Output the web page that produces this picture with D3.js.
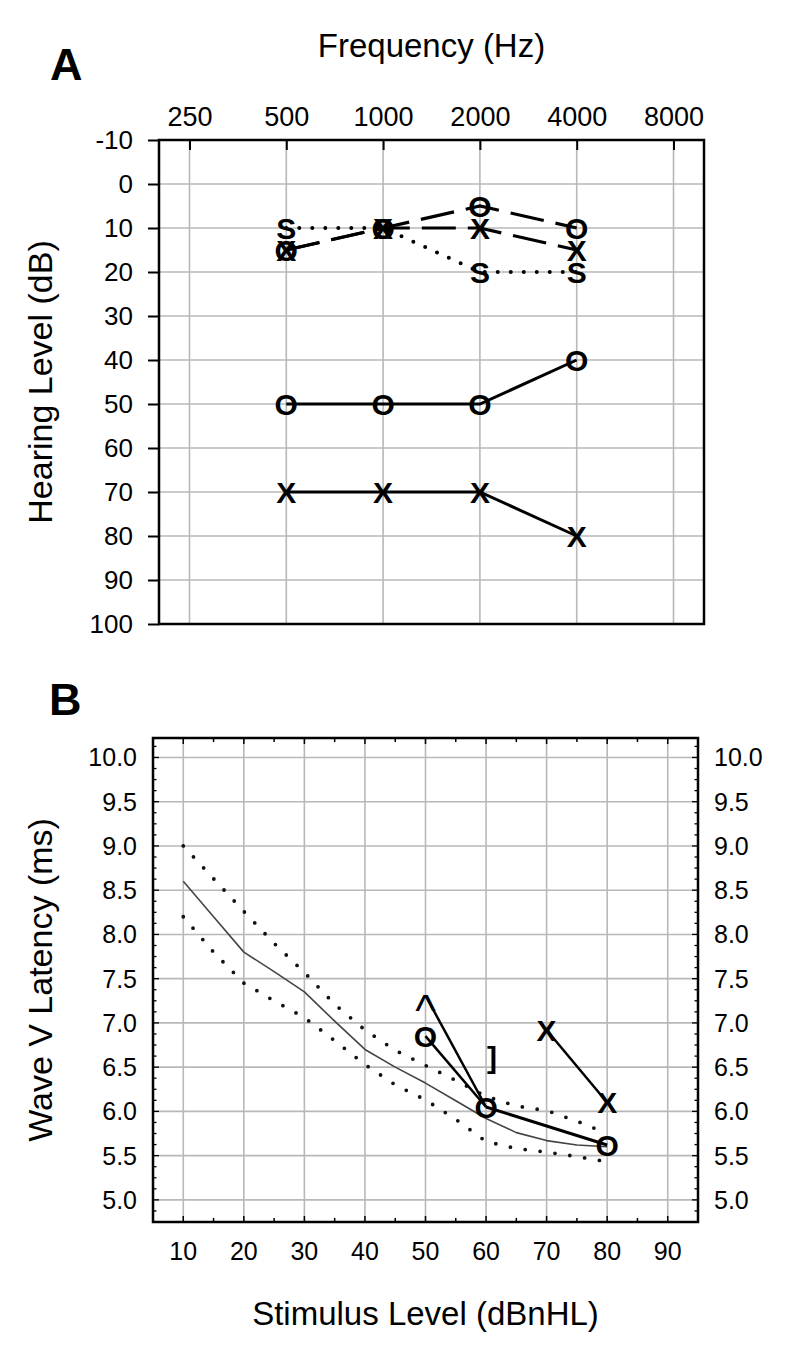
<!DOCTYPE html>
<html>
<head>
<meta charset="utf-8">
<script src="https://cdn.jsdelivr.net/npm/d3@7"></script>
<style>
html,body{margin:0;padding:0;background:#fff;}
svg{display:block;}
text{font-family:"Liberation Sans",Arial,Helvetica,sans-serif;fill:#000;}
</style>
</head>
<body>
<svg id="chart" width="789" height="1346"></svg>
<script>
// ---------- Panel A data ----------
const freqTicks = [250, 500, 1000, 2000, 4000, 8000];
const hlTicks = [-10, 0, 10, 20, 30, 40, 50, 60, 70, 80, 90, 100];
const testFreqs = [500, 1000, 2000, 4000];
const maskedBoneS = [10, 10, 20, 20];        // "S" dotted
const rightAidedO = [15, 10, 5, 10];         // "O" dashed
const leftAidedX = [15, 10, 10, 15];         // "X" dashed
const rightUnaidedO = [50, 50, 50, 40];      // "O" solid
const leftUnaidedX = [70, 70, 70, 80];       // "X" solid

// ---------- Panel B data ----------
const levelTicks = [10, 20, 30, 40, 50, 60, 70, 80, 90];
const latencyTicks = [5.0, 5.5, 6.0, 6.5, 7.0, 7.5, 8.0, 8.5, 9.0, 9.5, 10.0];
const normLevels = [10, 15, 20, 25, 30, 35, 40, 45, 50, 55, 60, 65, 70, 75, 80];
const normMean  = [8.6, 8.2, 7.8, 7.58, 7.35, 7.02, 6.7, 6.5, 6.32, 6.12, 5.92, 5.76, 5.67, 5.62, 5.6];
const normUpper = [9.0, 8.63, 8.26, 7.9, 7.57, 7.21, 6.92, 6.69, 6.52, 6.35, 6.17, 6.06, 6.01, 5.89, 5.75];
const normLower = [8.2, 7.8, 7.45, 7.25, 7.06, 6.8, 6.53, 6.3, 6.13, 5.91, 5.66, 5.58, 5.54, 5.49, 5.43];
const rightLevels = [50, 60, 80];
const rightLatency = [6.85, 6.05, 5.62];
const caretLevel = 50, caretLatency = 7.31;
const bracketLevel = 60, bracketLatency = 6.58;
const leftLevels = [70, 80];
const leftLatency = [6.92, 6.1];

const svg = d3.select("#chart");
const GRID = "#b8b8b8";
const plain = d => String(d);

// ================= PANEL A =================
const oct = Math.pow(2, 0.315);
const xA = d3.scaleLog().base(2).domain([250 / oct, 8000 * oct]).range([159, 704]);
const yA = d3.scaleLinear().domain([-10, 100]).range([140, 624]);
const gA = svg.append("g");

gA.selectAll(".vgA").data(freqTicks).join("line")
  .attr("x1", d => xA(d)).attr("x2", d => xA(d)).attr("y1", yA(-10)).attr("y2", yA(100))
  .attr("stroke", GRID).attr("stroke-width", 1.6);
gA.selectAll(".hgA").data(hlTicks.slice(1, -1)).join("line")
  .attr("x1", xA.range()[0]).attr("x2", xA.range()[1]).attr("y1", d => yA(d)).attr("y2", d => yA(d))
  .attr("stroke", GRID).attr("stroke-width", 1.6);

const axTop = gA.append("g").attr("transform", `translate(0,${yA(-10)})`)
  .call(d3.axisTop(xA).tickValues(freqTicks).tickFormat(plain).tickSizeInner(-10).tickSizeOuter(0).tickPadding(14));
axTop.select(".domain").remove();
axTop.selectAll("line").attr("stroke", "#000").attr("stroke-width", 2);
axTop.selectAll("text").attr("font-size", 27).attr("font-family", "Liberation Sans, Arial").attr("fill", "#000");

const axLeft = gA.append("g").attr("transform", `translate(${xA.range()[0]},0)`)
  .call(d3.axisLeft(yA).tickValues(hlTicks).tickFormat(plain).tickSizeInner(11).tickSizeOuter(0).tickPadding(15));
axLeft.select(".domain").remove();
axLeft.selectAll("line").attr("stroke", "#000").attr("stroke-width", 2);
axLeft.selectAll("text").attr("font-size", 26).attr("font-family", "Liberation Sans, Arial").attr("fill", "#000");

gA.append("rect").attr("x", xA.range()[0]).attr("y", yA(-10))
  .attr("width", xA.range()[1] - xA.range()[0]).attr("height", yA(100) - yA(-10))
  .attr("fill", "none").attr("stroke", "#000").attr("stroke-width", 2.5);

const lineA = d3.line().x(d => xA(d[0])).y(d => yA(d[1]));
function seriesA(vals, dash, width) {
  const pts = testFreqs.map((f, i) => [f, vals[i]]);
  gA.append("path").attr("d", lineA(pts)).attr("fill", "none")
    .attr("stroke", "#000").attr("stroke-width", width)
    .attr("stroke-dasharray", dash).attr("stroke-linecap", dash === "0 13" ? "round" : "butt");
  return pts;
}
const symA = [];
symA.push([seriesA(maskedBoneS, "0 13", 4), "S"]);
symA.push([seriesA(rightAidedO, "34 12", 3.2), "O"]);
symA.push([seriesA(leftAidedX, "34 12", 3.2), "X"]);
symA.push([seriesA(rightUnaidedO, null, 3), "O"]);
symA.push([seriesA(leftUnaidedX, null, 3), "X"]);
const symSize = 30;
symA.forEach(([pts, s]) => {
  gA.selectAll(null).data(pts).join("text")
    .attr("x", d => xA(d[0])).attr("y", d => yA(d[1]) + 0.358 * symSize)
    .attr("text-anchor", "middle").attr("font-size", symSize).attr("font-weight", "bold")
    .text(s);
});

svg.append("text").attr("x", 50).attr("y", 80).attr("font-size", 45).attr("font-weight", "bold").text("A");
svg.append("text").attr("x", (xA.range()[0] + xA.range()[1]) / 2).attr("y", 57)
  .attr("text-anchor", "middle").attr("font-size", 33).text("Frequency (Hz)");
svg.append("text").attr("transform", `translate(52,${(yA(-10) + yA(100)) / 2}) rotate(-90)`)
  .attr("text-anchor", "middle").attr("font-size", 34).text("Hearing Level (dB)");

// ================= PANEL B =================
const xB = d3.scaleLinear().domain([5, 95]).range([153, 698]);
const yB = d3.scaleLinear().domain([4.75, 10.22]).range([1222, 738]);
const gB = svg.append("g");

gB.selectAll(".vgB").data(levelTicks).join("line")
  .attr("x1", d => xB(d)).attr("x2", d => xB(d)).attr("y1", yB.range()[1]).attr("y2", yB.range()[0])
  .attr("stroke", GRID).attr("stroke-width", 1.6);
gB.selectAll(".hgB").data(latencyTicks).join("line")
  .attr("x1", xB.range()[0]).attr("x2", xB.range()[1]).attr("y1", d => yB(d)).attr("y2", d => yB(d))
  .attr("stroke", GRID).attr("stroke-width", 1.6);

const xMinor = d3.range(10, 95, 5);
const yMinor = d3.range(4.75, 10.22, 0.125);
[[yB.range()[1], 1], [yB.range()[0], -1]].forEach(([y0, s]) => {
  gB.selectAll(null).data(xMinor).join("line")
    .attr("x1", d => xB(d)).attr("x2", d => xB(d))
    .attr("y1", y0).attr("y2", d => y0 + s * (d % 10 === 0 ? 6 : 4))
    .attr("stroke", "#000").attr("stroke-width", 1.5);
});
[[xB.range()[0], 1], [xB.range()[1], -1]].forEach(([x0, s]) => {
  gB.selectAll(null).data(yMinor).join("line")
    .attr("y1", d => yB(d)).attr("y2", d => yB(d))
    .attr("x1", x0).attr("x2", d => x0 + s * (Math.abs(d * 2 - Math.round(d * 2)) < 1e-6 ? 6 : 3.5))
    .attr("stroke", "#000").attr("stroke-width", 1.3);
});

gB.append("rect").attr("x", xB.range()[0]).attr("y", yB.range()[1])
  .attr("width", xB.range()[1] - xB.range()[0]).attr("height", yB.range()[0] - yB.range()[1])
  .attr("fill", "none").attr("stroke", "#000").attr("stroke-width", 2.5);

const fmt1 = d3.format(".1f");
gB.selectAll(".ylL").data(latencyTicks).join("text")
  .attr("x", 137).attr("y", d => yB(d) + 0.358 * 25).attr("text-anchor", "end").attr("font-size", 25).text(fmt1);
gB.selectAll(".ylR").data(latencyTicks).join("text")
  .attr("x", 714).attr("y", d => yB(d) + 0.358 * 25).attr("text-anchor", "start").attr("font-size", 25).text(fmt1);
gB.selectAll(".xl").data(levelTicks).join("text")
  .attr("x", d => xB(d)).attr("y", 1260).attr("text-anchor", "middle").attr("font-size", 25).text(plain);

const lineB = d3.line().x(d => xB(d[0])).y(d => yB(d[1]));
const zipB = (xs, ys) => xs.map((x, i) => [x, ys[i]]);
gB.append("path").attr("d", lineB(zipB(normLevels, normUpper))).attr("fill", "none")
  .attr("stroke", "#111").attr("stroke-width", 3.8).attr("stroke-linecap", "round").attr("stroke-dasharray", "0 15");
gB.append("path").attr("d", lineB(zipB(normLevels, normLower))).attr("fill", "none")
  .attr("stroke", "#111").attr("stroke-width", 3.8).attr("stroke-linecap", "round").attr("stroke-dasharray", "0 15");
gB.append("path").attr("d", lineB(zipB(normLevels, normMean))).attr("fill", "none")
  .attr("stroke", "#444").attr("stroke-width", 1.6).attr("stroke-linejoin", "round");

const rightPts = zipB(rightLevels, rightLatency);
gB.append("path").attr("d", lineB(rightPts.slice(0, 2))).attr("fill", "none").attr("stroke", "#000").attr("stroke-width", 2.5);
gB.append("path").attr("d", lineB(rightPts.slice(1))).attr("fill", "none").attr("stroke", "#000").attr("stroke-width", 3);
gB.append("path").attr("d", lineB([[caretLevel, caretLatency], rightPts[1]])).attr("fill", "none").attr("stroke", "#000").attr("stroke-width", 2.5);
const leftPts = zipB(leftLevels, leftLatency);
gB.append("path").attr("d", lineB(leftPts)).attr("fill", "none").attr("stroke", "#000").attr("stroke-width", 2.5);

gB.selectAll(".oB").data(rightPts).join("text")
  .attr("x", d => xB(d[0])).attr("y", d => yB(d[1]) + 0.358 * symSize)
  .attr("text-anchor", "middle").attr("font-size", symSize).attr("font-weight", "bold").text("O");
gB.selectAll(".xB").data(leftPts).join("text")
  .attr("x", d => xB(d[0])).attr("y", d => yB(d[1]) + 0.358 * symSize)
  .attr("text-anchor", "middle").attr("font-size", symSize).attr("font-weight", "bold").text("X");
gB.append("text").attr("x", xB(caretLevel)).attr("y", yB(caretLatency) + 0.69 * 44)
  .attr("text-anchor", "middle").attr("font-size", 44).text("^");
gB.append("text").attr("x", xB(bracketLevel) + 6).attr("y", yB(bracketLatency) + 0.26 * 30)
  .attr("text-anchor", "middle").attr("font-size", 30).attr("font-weight", "bold").text("]");

svg.append("text").attr("x", 49).attr("y", 715).attr("font-size", 45).attr("font-weight", "bold").text("B");
svg.append("text").attr("x", (xB.range()[0] + xB.range()[1]) / 2).attr("y", 1325)
  .attr("text-anchor", "middle").attr("font-size", 33).text("Stimulus Level (dBnHL)");
svg.append("text").attr("transform", `translate(52,${(yB.range()[0] + yB.range()[1]) / 2}) rotate(-90)`)
  .attr("text-anchor", "middle").attr("font-size", 34).text("Wave V Latency (ms)");
</script>
</body>
</html>
